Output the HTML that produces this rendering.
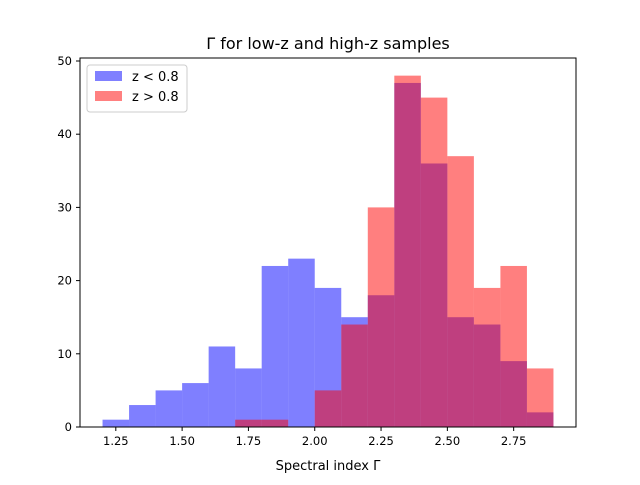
<!DOCTYPE html>
<html><head><meta charset="utf-8"><style>
body{margin:0;background:#fff}
svg text{font-family:"DejaVu Sans","Liberation Sans",sans-serif;fill:#000}
</style></head><body>
<svg id="chart" width="640" height="480">
<rect width="640" height="480" fill="#fff"/>
<g id="bars"></g>
<rect x="80" y="58" width="496" height="369" fill="none" stroke="#000" stroke-width="1"/>
<g id="ticks"></g>
<text x="328" y="49" font-size="16" text-anchor="middle">Γ for low-z and high-z samples</text>
<text x="328" y="470" font-size="13" text-anchor="middle">Spectral index Γ</text>
<g>
<rect x="87" y="65" width="100" height="47" rx="3" fill="#fff" fill-opacity="0.8" stroke="#ccc"/>
<rect x="95" y="71" width="27" height="10" fill="#8080ff"/>
<text x="132" y="81" font-size="13">z &lt; 0.8</text>
<rect x="95" y="91" width="27" height="10" fill="#ff8080"/>
<text x="132" y="101" font-size="13">z &gt; 0.8</text>
</g>
</svg>
<script>
const lowEdges=[1.2,1.3,1.4,1.5,1.6,1.7,1.8,1.9,2.0,2.1,2.2,2.3,2.4,2.5,2.6,2.7,2.8];
const lowCounts=[1,3,5,6,11,8,22,23,19,15,18,47,36,15,14,9,2];
const highEdges=[1.7,1.8,1.9,2.0,2.1,2.2,2.3,2.4,2.5,2.6,2.7,2.8];
const highCounts=[1,1,0,5,14,30,48,45,37,19,22,8];
const binWidth=0.1;
const xTicks=[1.25,1.5,1.75,2.0,2.25,2.5,2.75];
const xTickLabels=["1.25","1.50","1.75","2.00","2.25","2.50","2.75"];
const yTicks=[0,10,20,30,40,50];
const ns="http://www.w3.org/2000/svg";
const X=v=>80+(v-1.115)/(2.985-1.115)*496;
const Y=v=>427-v*7.32;
const bars=document.getElementById('bars');
function drawSeries(edges,counts,color,name){
  edges.forEach((e,i)=>{
    if(!counts[i])return;
    const r=document.createElementNS(ns,'rect');
    r.setAttribute('x',X(e));r.setAttribute('width',X(e+binWidth)-X(e));
    r.setAttribute('y',Y(counts[i]));r.setAttribute('height',Y(0)-Y(counts[i]));
    r.setAttribute('fill',color);r.setAttribute('fill-opacity','0.5');
    
    
    bars.appendChild(r);
  });
}
drawSeries(lowEdges,lowCounts,'#0000ff','low-z');
drawSeries(highEdges,highCounts,'#ff0000','high-z');
const t=document.getElementById('ticks');
xTicks.forEach((v,i)=>{
  const l=document.createElementNS(ns,'line');
  l.setAttribute('x1',X(v));l.setAttribute('x2',X(v));l.setAttribute('y1',427);l.setAttribute('y2',431);l.setAttribute('stroke','#000');
  
  
  t.appendChild(l);
  const s=document.createElementNS(ns,'text');
  s.setAttribute('x',X(v));s.setAttribute('y',445);s.setAttribute('font-size','11.5');s.setAttribute('text-anchor','middle');
  s.textContent=xTickLabels[i];
  
  
  t.appendChild(s);
});
yTicks.forEach(v=>{
  const l=document.createElementNS(ns,'line');
  l.setAttribute('x1',76);l.setAttribute('x2',80);l.setAttribute('y1',Y(v));l.setAttribute('y2',Y(v));l.setAttribute('stroke','#000');
  
  
  t.appendChild(l);
  const s=document.createElementNS(ns,'text');
  s.setAttribute('x',72);s.setAttribute('y',Y(v)+4);s.setAttribute('font-size','11.5');s.setAttribute('text-anchor','end');
  s.textContent=v;
  
  
  t.appendChild(s);
});
</script>
</body></html>
